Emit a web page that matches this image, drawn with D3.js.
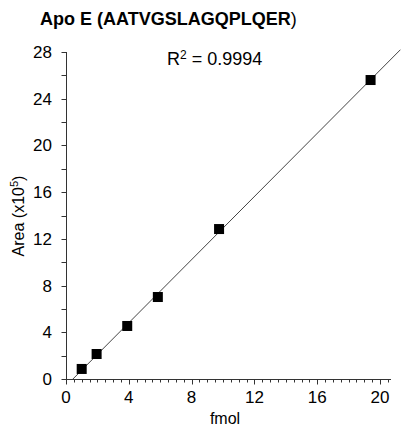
<!DOCTYPE html>
<html><head><meta charset="utf-8">
<script src="https://cdn.jsdelivr.net/npm/d3@7"></script>
<style>body{margin:0;background:#fff}svg{display:block}text{font-family:"Liberation Sans",Arial,sans-serif}</style>
</head><body>
<script>
const fmol = [1.0, 1.95, 3.9, 5.85, 9.75, 19.4];
const area = [0.86, 2.14, 4.54, 7.02, 12.84, 25.6];
const xTickLabels = [0, 4, 8, 12, 16, 20];
const yTickLabels = [0, 4, 8, 12, 16, 20, 24, 28];
const r2Label = "0.9994";

const W = 401, H = 431;
const svg = d3.select("body").append("svg").attr("width", W).attr("height", H);
const x = d3.scaleLinear().domain([0, 20]).range([66, 380]);
const y = d3.scaleLinear().domain([0, 28]).range([379, 52]);

// regression
const n = fmol.length, mx = d3.mean(fmol), my = d3.mean(area);
let sxy = 0, sxx = 0;
for (let i = 0; i < n; i++) { sxy += (fmol[i]-mx)*(area[i]-my); sxx += (fmol[i]-mx)**2; }
const slope = sxy/sxx, icpt = my - slope*mx;
const x0 = -icpt/slope, x1 = 21.3;

// axes
const xMinor = d3.range(0, 20.75, 0.5);
const gx = svg.append("g");
gx.append("line").attr("x1", x(0)).attr("x2", x(20.7)).attr("y1", 379.5).attr("y2", 379.5).attr("stroke", "#333");
gx.selectAll("line.t").data(xMinor).join("line").attr("class","t")
  .attr("x1", d => Math.round(x(d))+0.5).attr("x2", d => Math.round(x(d))+0.5)
  .attr("y1", 379.5).attr("y2", d => d % 4 === 0 ? 384.5 : 382.5).attr("stroke", "#333");
gx.selectAll("text").data(xTickLabels).join("text")
  .attr("x", d => x(d)).attr("y", 403).attr("text-anchor", "middle").attr("font-size", 17).text(d => d);

const gy = svg.append("g");
gy.append("line").attr("x1", 66.5).attr("x2", 66.5).attr("y1", y(28)).attr("y2", 379.5).attr("stroke", "#333");
gy.selectAll("line.t").data(d3.range(0, 29, 2)).join("line").attr("class","t")
  .attr("x1", 61.5).attr("x2", 66.5)
  .attr("y1", d => Math.round(y(d))+0.5).attr("y2", d => Math.round(y(d))+0.5).attr("stroke", "#333");
gy.selectAll("text").data(yTickLabels).join("text")
  .attr("x", 52).attr("y", d => y(d)+6).attr("text-anchor", "end").attr("font-size", 17).text(d => d);

// regression line
svg.append("line").attr("x1", x(x0)).attr("y1", y(0)).attr("x2", x(x1)).attr("y2", y(slope*x1+icpt))
  .attr("stroke", "#444").attr("stroke-width", 1);

// points
svg.selectAll("rect.p").data(fmol).join("rect").attr("class","p")
  .attr("x", (d,i) => x(d)-5).attr("y", (d,i) => y(area[i])-5).attr("width", 10).attr("height", 10).attr("fill", "#000");

// title
const t = svg.append("text").attr("x", 40).attr("y", 25).attr("font-size", 18);
t.append("tspan").attr("font-weight", "bold").text("Apo E (AATVGSLAGQPLQER");
t.append("tspan").text(")");

// R2
const r = svg.append("text").attr("x", 167).attr("y", 65).attr("font-size", 18);
r.append("tspan").text("R");
r.append("tspan").attr("font-size", 12).attr("dy", -6).text("2");
r.append("tspan").attr("dy", 6).text(" = " + r2Label);

// axis titles
svg.append("text").attr("x", 225).attr("y", 424).attr("text-anchor", "middle").attr("font-size", 16).text("fmol");
const yt = svg.append("text").attr("transform", "translate(24,216) rotate(-90)").attr("text-anchor", "middle").attr("font-size", 16);
yt.append("tspan").text("Area (x10");
yt.append("tspan").attr("font-size", 11).attr("dy", -6).text("5");
yt.append("tspan").attr("dy", 6).text(")");
</script>
</body></html>
